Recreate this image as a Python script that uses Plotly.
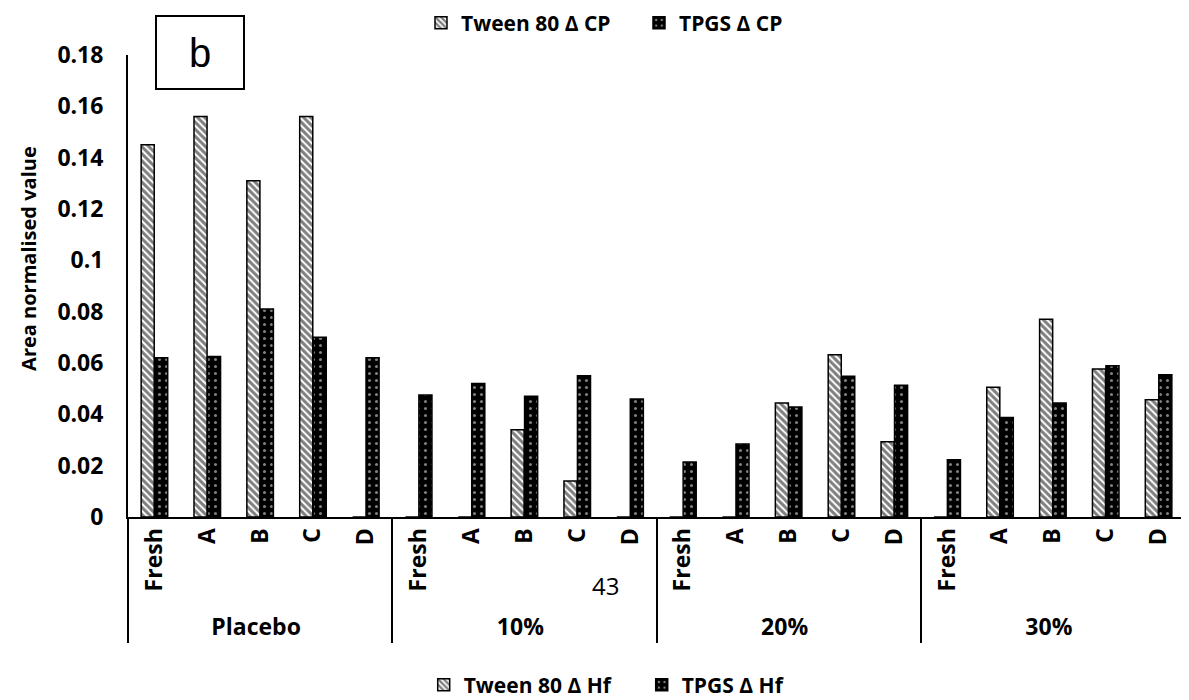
import plotly.graph_objects as go

groups = ["Placebo", "10%", "20%", "30%"]
subcats = ["Fresh", "A", "B", "C", "D"]

tween_cp = [0.145, 0.156, 0.131, 0.156, 0,
            0, 0, 0.034, 0.014, 0,
            0, 0, 0.0444, 0.0632, 0.0293,
            0, 0.0506, 0.077, 0.0577, 0.0457]
tpgs_cp = [0.062, 0.0625, 0.081, 0.070, 0.062,
           0.0475, 0.052, 0.047, 0.055, 0.046,
           0.0214, 0.0284, 0.0429, 0.0548, 0.0513,
           0.0223, 0.0388, 0.0444, 0.0589, 0.0554]

legend_top = ["Tween 80 Δ CP", "TPGS Δ CP"]
legend_bottom = ["Tween 80 Δ Hf", "TPGS Δ Hf"]

x_outer = [g for g in groups for _ in subcats]
x_inner = [s for _ in groups for s in subcats]

FONT = "Open Sans"

tween_marker = dict(color="white", line=dict(color="black", width=1.5),
                    pattern=dict(shape="\\", fgcolor="black", bgcolor="white", size=5, solidity=0.6))
tpgs_marker = dict(color="black", line=dict(color="black", width=1.5),
                   pattern=dict(shape=".", fgcolor="white", bgcolor="black", size=7, solidity=0.15))

fig = go.Figure()
fig.add_trace(go.Bar(x=[x_outer, x_inner], y=tween_cp, name=legend_top[0],
                     marker=tween_marker, legend="legend"))
fig.add_trace(go.Bar(x=[x_outer, x_inner], y=tpgs_cp, name=legend_top[1],
                     marker=tpgs_marker, legend="legend"))
# second legend (bottom) - entries only, on hidden overlay axes
fig.add_trace(go.Bar(x=[subcats[0]], y=[None], name=legend_bottom[0], marker=tween_marker,
                     legend="legend2", xaxis="x2", yaxis="y2"))
fig.add_trace(go.Bar(x=[subcats[0]], y=[None], name=legend_bottom[1], marker=tpgs_marker,
                     legend="legend2", xaxis="x2", yaxis="y2"))

leg_font = dict(size=21, family=FONT, weight="bold", color="black")
# page body has an 8px margin: figure is 1181x692 drawn from (8, 8)
fig.update_layout(
    width=1181, height=692,
    margin=dict(l=120, r=4, t=47, b=183, autoexpand=False),
    paper_bgcolor="white", plot_bgcolor="white",
    font=dict(family=FONT, color="black", size=18),
    barmode="group", bargap=0.49, bargroupgap=0.03,
    legend=dict(orientation="h", xref="container", x=0.3497, xanchor="left",
                yref="paper", y=1.069, yanchor="middle",
                font=leg_font, itemwidth=30, traceorder="normal",
                entrywidth=173, entrywidthmode="pixels"),
    legend2=dict(orientation="h", xref="container", x=0.352, xanchor="left",
                 yref="paper", y=-0.364, yanchor="middle",
                 font=leg_font, itemwidth=30, traceorder="normal",
                 entrywidth=173, entrywidthmode="pixels"),
    showlegend=True,
    xaxis2=dict(overlaying="x", visible=False),
    yaxis2=dict(overlaying="y", visible=False, range=[0, 1]),
)

fig.update_layout(yaxis=dict(
    range=[0, 0.18], dtick=0.02, showgrid=False, zeroline=False,
    showline=True, linecolor="black", linewidth=2, ticks="",
    ticklabelstandoff=18,
    tickfont=dict(size=23, family=FONT, weight="bold"),
))
fig.update_layout(xaxis=dict(
    type="multicategory", showline=True, linecolor="black", linewidth=2,
    showgrid=False, ticks="", tickangle=-90,
    tickfont=dict(size=23, family=FONT, weight="bold"),
    showdividers=True, dividercolor="black", dividerwidth=2,
))

# y-axis title
fig.add_annotation(
    text="<b>Area normalised value</b>", xref="paper", yref="paper",
    x=-0.094, y=0.56, xanchor="center", yanchor="middle", textangle=-90,
    showarrow=False, font=dict(size=20, family=FONT, color="black"),
)
# panel label box
fig.add_annotation(
    text="b", xref="paper", yref="paper", x=0.0255, y=1.0054, xanchor="left", yanchor="middle",
    showarrow=False, font=dict(size=40, family="Liberation Sans", color="black"),
    bordercolor="black", borderwidth=2, borderpad=4, width=78, height=63, bgcolor="white",
)
# page number
fig.add_annotation(
    text="43", xref="paper", yref="paper", x=0.452, y=-0.188, showarrow=False,
    font=dict(size=24, family=FONT, color="black"),
)

fig.write_html("out.html")
